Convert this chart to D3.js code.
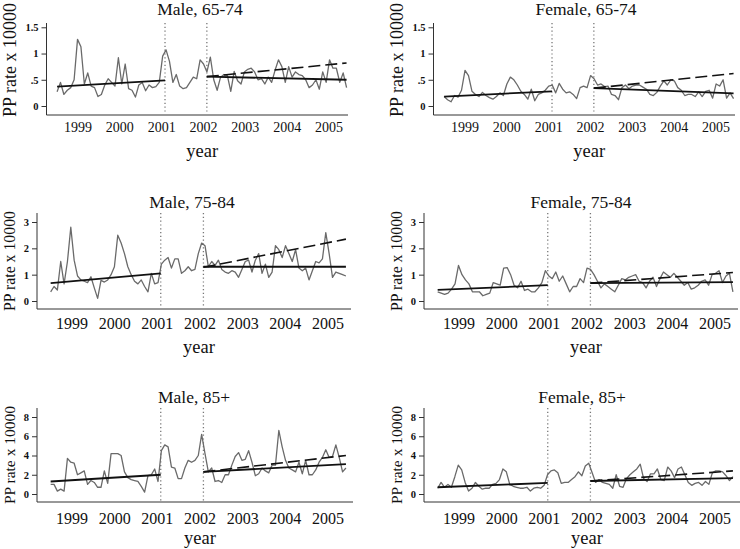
<!DOCTYPE html>
<html>
<head>
<meta charset="utf-8">
<script src="https://cdn.jsdelivr.net/npm/d3@7"></script>
<style>
  body { margin: 0; background: #fff; }
  text { font-family: "Liberation Serif", "Times New Roman", serif; fill: #111; }
</style>
</head>
<body>
<div id="chart"></div>
<script>
// monthly PP rate x 10000, Jul 1998 - Jun 2005
const yearTicks = [1999, 2000, 2001, 2002, 2003, 2004, 2005];
const seriesStart = 1998.5, seriesEnd = 2005.42;
const breaks = [2001.08, 2002.08];

const titles = ["Male, 65-74", "Female, 65-74", "Male, 75-84", "Female, 75-84", "Male, 85+", "Female, 85+"];

const male6574 = [0.27, 0.45, 0.22, 0.3, 0.35, 0.5, 1.27, 1.13, 0.42, 0.63, 0.38, 0.35, 0.18, 0.22, 0.4, 0.52, 0.45, 0.38, 0.92, 0.42,
  0.8, 0.33, 0.3, 0.17, 0.4, 0.45, 0.29, 0.4, 0.35, 0.37, 0.45, 0.95, 1.07, 0.85, 0.45, 0.6, 0.38, 0.33, 0.35, 0.45,
  0.55, 0.52, 0.88, 0.8, 0.65, 0.93, 0.5, 0.3, 0.55, 0.6, 0.58, 0.28, 0.66, 0.48, 0.42, 0.65, 0.7, 0.72, 0.65, 0.5,
  0.52, 0.42, 0.55, 0.45, 0.68, 0.88, 0.75, 0.45, 0.75, 0.55, 0.65, 0.6, 0.58, 0.5, 0.35, 0.4, 0.5, 0.32, 0.65, 0.45,
  0.88, 0.72, 0.72, 0.45, 0.63, 0.35];
const female6574 = [0.18, 0.12, 0.08, 0.2, 0.17, 0.3, 0.68, 0.58, 0.28, 0.22, 0.18, 0.26, 0.2, 0.16, 0.13, 0.18, 0.25, 0.2, 0.42, 0.55,
  0.5, 0.4, 0.28, 0.22, 0.13, 0.32, 0.1, 0.22, 0.25, 0.3, 0.38, 0.4, 0.25, 0.43, 0.32, 0.25, 0.27, 0.22, 0.14, 0.35,
  0.38, 0.35, 0.58, 0.52, 0.4, 0.42, 0.37, 0.38, 0.22, 0.2, 0.12, 0.35, 0.4, 0.33, 0.38, 0.4, 0.4, 0.36, 0.32, 0.22,
  0.2, 0.26, 0.38, 0.48, 0.4, 0.5, 0.48, 0.35, 0.3, 0.2, 0.22, 0.22, 0.18, 0.27, 0.18, 0.28, 0.3, 0.15, 0.42, 0.38,
  0.5, 0.15, 0.25, 0.14];
const male7584 = [0.35, 0.55, 0.42, 1.5, 0.65, 1.5, 2.8, 1.55, 0.95, 0.8, 0.75, 0.7, 0.92, 0.5, 0.1, 0.78, 0.72, 0.8, 1.0, 1.3,
  2.5, 2.2, 1.8, 1.3, 1.0, 0.75, 0.65, 0.8, 0.55, 0.35, 1.05, 0.65, 0.7, 1.4, 1.55, 1.65, 1.25, 1.6, 1.6, 1.05,
  1.15, 1.3, 1.15, 1.2, 1.8, 2.2, 2.1, 1.3, 1.5, 1.35, 1.55, 1.2, 1.1, 1.05, 1.15, 1.1, 0.9, 1.2, 1.5, 1.55,
  1.1, 1.55, 1.8, 1.05, 1.4, 0.9, 1.1, 2.1, 1.95, 1.65, 2.1, 1.8, 1.5, 1.95, 1.25, 1.15, 1.25, 0.8, 1.15, 1.5,
  1.45, 1.6, 2.6, 1.8, 0.9, 1.1, 1.05, 1.0, 0.95];
const female7584 = [0.35, 0.3, 0.25, 0.3, 0.45, 0.65, 1.35, 1.0, 0.8, 0.65, 0.35, 0.35, 0.35, 0.2, 0.25, 0.3, 0.7, 0.65, 0.6, 1.25,
  1.27, 1.0, 0.6, 0.5, 0.75, 0.4, 0.45, 0.35, 0.35, 0.5, 0.7, 1.15, 0.95, 0.85, 1.1, 0.75, 0.95, 0.65, 0.35, 0.55,
  0.55, 0.85, 0.7, 1.25, 1.2, 1.0, 0.75, 0.5, 0.65, 0.55, 0.45, 0.35, 0.6, 0.85, 0.8, 0.9, 0.95, 1.0, 0.75, 0.7,
  0.5, 0.75, 0.9, 0.55, 0.85, 1.1, 1.0, 0.9, 1.05, 0.9, 0.75, 0.6, 0.7, 0.45, 0.5, 0.6, 0.75, 0.8, 0.6, 1.0,
  1.05, 1.15, 0.7, 0.95, 1.05, 0.35];
const male85 = [1.0, 1.0, 0.3, 0.5, 0.3, 3.7, 3.3, 3.2, 2.0, 2.2, 2.4, 1.0, 1.4, 1.2, 0.7, 0.7, 2.4, 1.1, 4.2, 4.2,
  4.2, 4.0, 2.3, 1.7, 1.5, 1.4, 1.3, 0.8, 0.2, 1.9, 2.0, 2.6, 1.3, 4.5, 5.1, 4.9, 2.8, 2.7, 1.6, 1.6,
  2.7, 3.5, 3.3, 3.5, 4.0, 6.2, 4.2, 2.3, 2.7, 1.3, 1.4, 1.2, 2.0, 2.0, 3.0, 3.9, 4.3, 3.5, 3.6, 4.5,
  3.3, 1.9, 2.1, 2.7, 2.4, 2.2, 3.0, 3.0, 6.6, 4.9, 3.5, 2.7, 2.5, 2.3, 3.3, 2.1, 3.5, 2.0, 2.0, 2.5,
  3.3, 3.8, 4.6, 3.8, 3.9, 5.1, 3.8, 2.3, 2.7];
const female85 = [0.6, 1.2, 0.7, 1.0, 0.7, 1.8, 3.0, 2.5, 1.2, 0.3, 0.6, 1.2, 0.8, 0.5, 0.6, 0.6, 1.0, 1.1, 1.5, 2.6,
  2.3, 1.0, 0.8, 0.7, 0.6, 0.6, 0.7, 0.3, 0.6, 0.7, 0.6, 0.9, 2.0, 2.4, 2.5, 2.2, 1.1, 1.2, 1.2, 1.5,
  1.8, 2.3, 1.9, 2.9, 3.2, 2.2, 1.2, 1.5, 1.2, 1.1, 1.0, 0.6, 2.0, 0.8, 0.7, 1.6, 2.0, 2.3, 2.6, 3.1,
  1.6, 1.3, 2.1, 2.1, 2.6, 1.5, 1.4, 2.8, 2.4, 1.7, 2.6, 2.8, 2.0, 1.2, 0.9, 1.1, 1.2, 0.9, 1.3, 1.0,
  2.2, 2.4, 2.4, 2.3, 1.9, 1.4, 1.8];

// fitted segments: [value at start, value at end]
const preFit = [[0.37, 0.49], [0.18, 0.28], [0.68, 1.05], [0.42, 0.6], [1.3, 2.0], [0.7, 1.15]];
const postFit = [[0.56, 0.5], [0.34, 0.24], [1.3, 1.3], [0.68, 0.72], [2.3, 3.1], [1.35, 1.65]];
const projFit = [[0.56, 0.82], [0.34, 0.62], [1.28, 2.35], [0.68, 1.08], [2.3, 4.0], [1.35, 2.4]];

const allSeries = [male6574, female6574, male7584, female7584, male85, female85];

const yTickSets = [[0, 0.5, 1, 1.5], [0, 1, 2, 3], [0, 2, 4, 6, 8]];
const yTickText = [["0", ".5", "1", "1.5"], ["0", "1", "2", "3"], ["0", "2", "4", "6", "8"]];

// layout per row (pixels)
const rows = [
  {titleY: 8.5, top: 23, bottom: 115, yMax: 1.5, y0: 106, yTop: 27.3, x1999: 78, x2005: 329, axisX: 46.5, right: 348,
   tickY: 127, tickSize: 14, yearY: 151, yearSize: 18.5, ytY: 60, ytX: 10, ytSize: 18},
  {titleY: 202, top: 213, bottom: 309, yMax: 3, y0: 301, yTop: 222, x1999: 72, x2005: 328, axisX: 37, right: 351,
   tickY: 323, tickSize: 16, yearY: 347, yearSize: 18.5, ytY: 261, ytX: 9, ytSize: 15.8},
  {titleY: 397, top: 408, bottom: 502, yMax: 8, y0: 494, yTop: 417, x1999: 72, x2005: 328, axisX: 37, right: 353,
   tickY: 518, tickSize: 16, yearY: 538, yearSize: 18.5, ytY: 455, ytX: 9, ytSize: 15.5}
];
const titleX = [[200, 586], [192, 581], [194, 582]];
const colShift = 387;

const svg = d3.select("#chart").append("svg")
  .attr("width", 740).attr("height", 549);

allSeries.forEach((vals, k) => {
  const r = Math.floor(k / 2), c = k % 2;
  const L = rows[r];
  const g = svg.append("g").attr("transform", `translate(${c * colShift},0)`);

  const x = d3.scaleLinear().domain([1999, 2005]).range([L.x1999, L.x2005]);
  const y = d3.scaleLinear().domain([0, L.yMax]).range([L.y0, L.yTop]);
  const tOf = d3.scaleLinear().domain([0, vals.length - 1]).range([seriesStart, seriesEnd]);

  // title
  g.append("text")
    .attr("x", titleX[r][c] - c * colShift).attr("y", L.titleY)
    .attr("text-anchor", "middle").attr("dominant-baseline", "central")
    .attr("font-size", "17.5px").text(titles[k]);

  // y axis
  const yAxis = d3.axisLeft(y).tickValues(yTickSets[r]).tickSize(5).tickPadding(3)
    .tickFormat((d, i) => yTickText[r][i]);
  const ya = g.append("g").attr("transform", `translate(${L.axisX},0)`).call(yAxis);
  ya.select(".domain").remove();
  ya.selectAll("line").attr("stroke", "#333");
  ya.selectAll("text").attr("font-size", "10.5px").attr("font-weight", "bold")
    .style("font-family", "'Liberation Serif', serif").attr("fill", "#222");
  g.append("line").attr("x1", L.axisX).attr("x2", L.axisX).attr("y1", L.top).attr("y2", L.bottom)
    .attr("stroke", "#333").attr("stroke-width", 1);

  // x axis (no ticks)
  g.append("line").attr("x1", L.axisX).attr("x2", L.right).attr("y1", L.bottom).attr("y2", L.bottom)
    .attr("stroke", "#333").attr("stroke-width", 1);
  g.selectAll(".xl").data(yearTicks).enter().append("text")
    .attr("x", d => x(d)).attr("y", L.tickY)
    .attr("text-anchor", "middle").attr("dominant-baseline", "central")
    .attr("font-size", L.tickSize + "px").text(d => d);

  g.append("text").attr("x", (L.axisX + L.right) / 2 + 5).attr("y", L.yearY)
    .attr("text-anchor", "middle").attr("dominant-baseline", "central")
    .attr("font-size", L.yearSize + "px").text("year");

  g.append("text")
    .attr("transform", `translate(${L.ytX},${L.ytY}) rotate(-90)`)
    .attr("text-anchor", "middle").attr("dominant-baseline", "central")
    .attr("font-size", L.ytSize + "px").text("PP rate x 10000");

  // interruption markers
  g.selectAll(".brk").data(breaks).enter().append("line")
    .attr("x1", d => x(d)).attr("x2", d => x(d))
    .attr("y1", L.top).attr("y2", L.bottom - 1)
    .attr("stroke", "#777").attr("stroke-width", 1.3).attr("stroke-dasharray", "1.2,2.6");

  // observed series
  const line = d3.line().x((d, i) => x(tOf(i))).y(d => y(d));
  g.append("path").datum(vals).attr("d", line)
    .attr("fill", "none").attr("stroke", "#6a6a6a").attr("stroke-width", 1.3)
    .attr("stroke-linejoin", "round");

  // fitted trends
  const seg = (a, b, t0, t1) => [[t0, a], [t1, b]];
  const fl = d3.line().x(d => x(d[0])).y(d => y(d[1]));
  g.append("path").attr("d", fl(seg(preFit[k][0], preFit[k][1], seriesStart, breaks[0])))
    .attr("fill", "none").attr("stroke", "#111").attr("stroke-width", 1.8);
  g.append("path").attr("d", fl(seg(postFit[k][0], postFit[k][1], breaks[1], seriesEnd)))
    .attr("fill", "none").attr("stroke", "#111").attr("stroke-width", 1.8);
  g.append("path").attr("d", fl(seg(projFit[k][0], projFit[k][1], breaks[1], seriesEnd)))
    .attr("fill", "none").attr("stroke", "#111").attr("stroke-width", 1.6)
    .attr("stroke-dasharray", "12,5");
});
</script>
</body>
</html>
